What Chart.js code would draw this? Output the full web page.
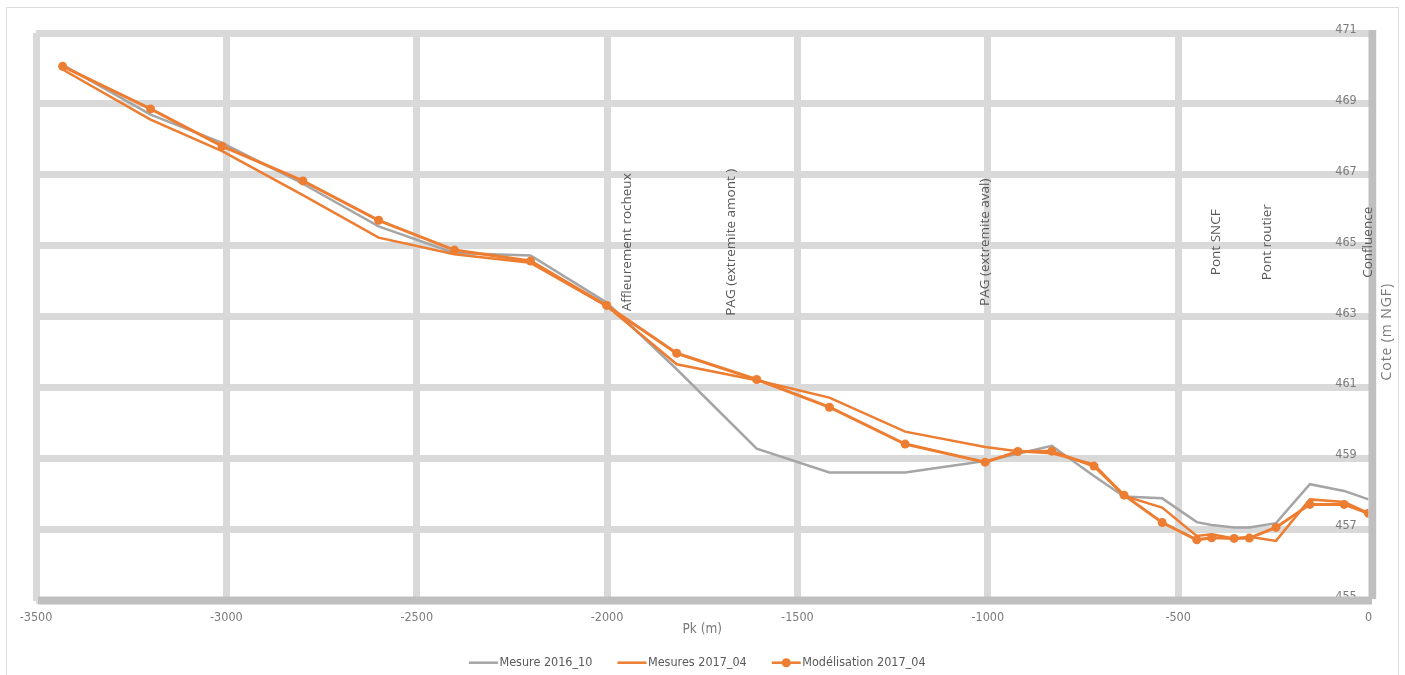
<!DOCTYPE html>
<html>
<head>
<meta charset="utf-8">
<script src="https://cdn.jsdelivr.net/npm/chart.js@4.4.1/dist/chart.umd.min.js"></script>
<style>
  html, body { margin: 0; padding: 0; background: #ffffff; overflow: hidden; }
  #frame { position: absolute; left: 6px; top: 7px; width: 1393px; height: 680px; border: 1px solid #dcdcdc; box-sizing: border-box; }
  #profil { position: absolute; left: 0; top: 0; }
</style>
</head>
<body>
<div id="frame"></div>
<canvas id="profil" width="1405" height="675"></canvas>
<script>
// Profil en long : point kilométrique (m) et cote du fond (m NGF)
const pk = [-3430, -3199, -3011, -2799, -2600, -2401, -2201, -2001, -1817, -1607, -1416, -1217, -1007,
            -921, -832, -721, -642, -542, -451, -412, -353, -313, -243, -154, -64, 0];

const mesure2016 = [470.10, 468.70, 467.90, 466.75, 465.55, 464.80, 464.73, 463.40, 461.52, 459.28, 458.61, 458.61, 458.93,
                    459.14, 459.36, 458.51, 457.93, 457.88, 457.21, 457.13, 457.06, 457.06, 457.18, 458.28, 458.09, 457.85];

const mesures2017 = [469.97, 468.56, 467.67, 466.43, 465.23, 464.76, 464.52, 463.30, 461.66, 461.21, 460.72, 459.76, 459.33,
                     459.21, 459.15, 458.84, 457.95, 457.62, 456.82, 456.87, 456.75, 456.80, 456.68, 457.85, 457.78, 457.46];

const modelisation2017 = [470.06, 468.86, 467.81, 466.83, 465.72, 464.88, 464.57, 463.32, 461.97, 461.23, 460.45, 459.41, 458.90,
                          459.20, 459.21, 458.79, 457.97, 457.20, 456.71, 456.77, 456.75, 456.76, 457.06, 457.71, 457.71, 457.46];

const seriesNames = ['Mesure 2016_10', 'Mesures 2017_04', 'Modélisation 2017_04'];

// Axes
const pkRange = [-3500, 0];
const pkStep = 500;
const coteRange = [455, 471];
const coteStep = 2;
const pkTitle = 'Pk (m)';
const coteTitle = 'Cote (m NGF)';

// Repères le long du tracé
const repereNoms = ['Affleurement rocheux', 'PAG (extremite amont )', 'PAG (extremite aval)', 'Pont SNCF', 'Pont routier', 'Confluence'];
const reperePk = [-1947, -1675, -1006, -399, -267, 0];
const repereCote = 465.1;

const ORANGE = '#ed7d31';
const GRIS = '#a5a5a5';
const AXE = '#bfbfbf';
const GRILLE = '#d9d9d9';
const TEXTE = '#595959';
const TICK = '#7a7a7a';
const NARROW = "'DejaVu Sans Condensed', 'Liberation Sans Narrow', sans-serif";
const SANS = "'Open Sans', 'Noto Sans', sans-serif";

const toPoints = (ys) => pk.map((x, i) => ({ x: x, y: ys[i] }));

// Barres d'axes épaisses (bas et droite)
const axisBars = {
  id: 'axisBars',
  afterDatasetsDraw(chart) {
    const { ctx, chartArea: a } = chart;
    ctx.save();
    ctx.fillStyle = AXE;
    ctx.fillRect(a.left + 2, a.bottom - 4, a.right - a.left + 1.5, 8);
    ctx.fillRect(a.right, a.top - 3, 7.7, a.bottom - a.top + 1.5);
    ctx.restore();
  }
};

// Libellés verticaux des repères, titre de l'axe des cotes et légende
const annotations = {
  id: 'annotations',
  afterDraw(chart) {
    const { ctx, chartArea: a } = chart;
    const xs = chart.scales.x, ys = chart.scales.y;
    ctx.save();
    ctx.fillStyle = TEXTE;
    ctx.font = '13.5px ' + SANS;
    ctx.textAlign = 'center';
    ctx.textBaseline = 'middle';
    repereNoms.forEach((nom, i) => {
      const px = xs.getPixelForValue(reperePk[i]);
      const py = ys.getPixelForValue(repereCote);
      ctx.save();
      ctx.translate(px, py);
      ctx.rotate(-Math.PI / 2);
      ctx.fillText(nom, 0, 0);
      ctx.restore();
    });

    // titre de l'axe des cotes
    ctx.save();
    ctx.font = '14px ' + SANS;
    if ('letterSpacing' in ctx) ctx.letterSpacing = '0.9px';
    ctx.fillStyle = TICK;
    ctx.translate(a.right + 18.2, (a.top + a.bottom) / 2 + 15);
    ctx.rotate(-Math.PI / 2);
    ctx.fillText(coteTitle, 0, 0);
    ctx.restore();

    // légende
    ctx.font = '12.5px ' + NARROW;
    ctx.textAlign = 'left';
    const order = [0, 1, 2];
    const lineLen = 29, gap = 1.5, spacing = 25;
    const items = order.map(k => {
      const ds = chart.data.datasets.find(d => d.label === seriesNames[k]);
      return { ds: ds, text: seriesNames[k], w: ctx.measureText(seriesNames[k]).width };
    });
    const total = items.reduce((s, it) => s + lineLen + gap + it.w, 0) + spacing * (items.length - 1);
    let x = (a.left + a.right) / 2 - 5 - total / 2;
    const y = 662.7;
    items.forEach(it => {
      ctx.strokeStyle = it.ds.borderColor;
      ctx.lineWidth = 2.5;
      ctx.beginPath();
      ctx.moveTo(x, y);
      ctx.lineTo(x + lineLen, y);
      ctx.stroke();
      if (it.ds.pointRadius) {
        ctx.fillStyle = it.ds.borderColor;
        ctx.beginPath();
        ctx.arc(x + lineLen / 2, y, 4.5, 0, Math.PI * 2);
        ctx.fill();
      }
      ctx.fillStyle = TEXTE;
      ctx.fillText(it.text, x + lineLen + gap, y);
      x += lineLen + gap + it.w + spacing;
    });
    ctx.restore();
  }
};

const lastIndex = pk.length - 1;

new Chart(document.getElementById('profil'), {
  type: 'line',
  data: {
    datasets: [
      {
        label: seriesNames[2],
        data: toPoints(modelisation2017),
        borderColor: ORANGE,
        backgroundColor: ORANGE,
        borderWidth: 3,
        pointRadius: 4.5,
        pointBorderWidth: 0,
        pointHoverRadius: 4.5,
        radius: (c) => (c.dataIndex === lastIndex ? 0 : 4.5),
        tension: 0
      },
      {
        label: seriesNames[1],
        data: toPoints(mesures2017),
        borderColor: ORANGE,
        backgroundColor: ORANGE,
        borderWidth: 2.5,
        pointRadius: 0,
        tension: 0
      },
      {
        label: seriesNames[0],
        data: toPoints(mesure2016),
        borderColor: GRIS,
        backgroundColor: GRIS,
        borderWidth: 2.5,
        pointRadius: 0,
        tension: 0
      }
    ]
  },
  options: {
    responsive: false,
    animation: false,
    devicePixelRatio: 1,
    events: [],
    layout: { padding: { left: 36, top: 33, right: 0, bottom: 35.5 } },
    plugins: {
      legend: { display: false },
      tooltip: { enabled: false }
    },
    scales: {
      x: {
        type: 'linear',
        position: 'bottom',
        min: pkRange[0],
        max: pkRange[1],
        afterFit: (s) => { s.height = 39; },
        ticks: {
          stepSize: pkStep,
          padding: 10,
          color: TICK,
          font: { family: NARROW, size: 12.5 },
          maxRotation: 0,
          autoSkip: false,
          callback: (v) => String(v)
        },
        grid: {
          color: (c) => (c.tick && c.tick.value === pkRange[1] ? 'rgba(0,0,0,0)' : GRILLE),
          lineWidth: 7,
          drawTicks: false
        },
        border: { display: false },
        title: {
          display: true,
          text: pkTitle,
          color: TICK,
          font: { family: NARROW, size: 13.5 },
          padding: { top: 0, bottom: 2 }
        }
      },
      y: {
        type: 'linear',
        position: 'right',
        min: coteRange[0],
        max: coteRange[1],
        afterFit: (s) => { s.width = 36.5; },
        ticks: {
          stepSize: coteStep,
          mirror: true,
          padding: -11.8,
          labelOffset: -3.5,
          color: TICK,
          font: { family: NARROW, size: 12.5 },
          callback: (v) => String(v)
        },
        grid: {
          color: GRILLE,
          lineWidth: 7,
          drawTicks: false
        },
        border: { display: false }
      }
    }
  },
  plugins: [axisBars, annotations]
});
</script>
</body>
</html>
